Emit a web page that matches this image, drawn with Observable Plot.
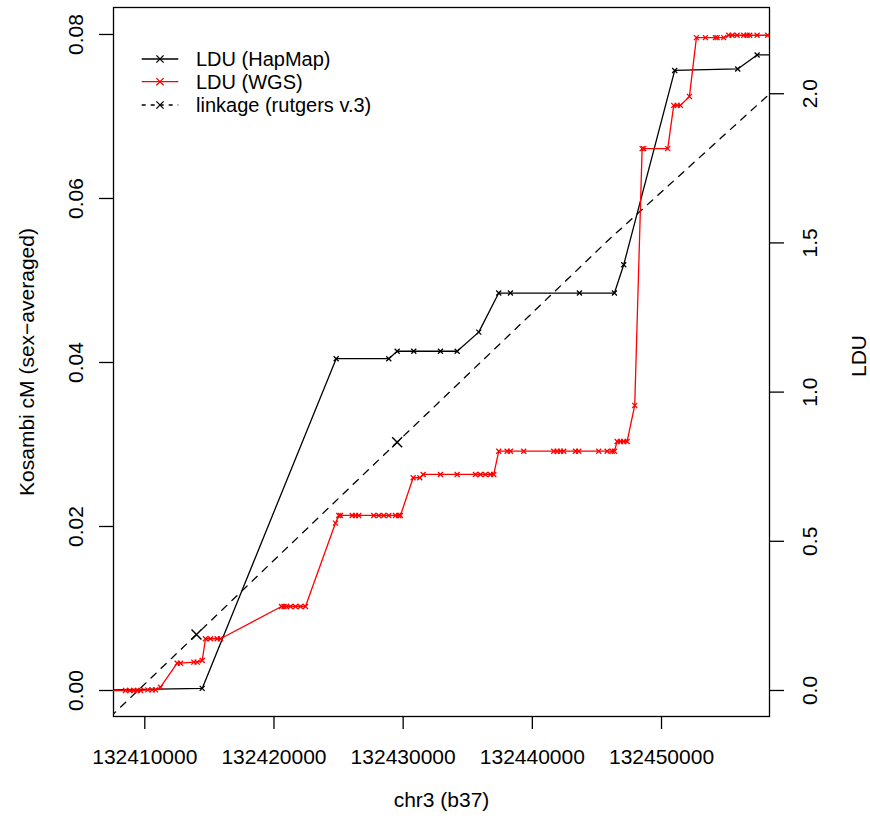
<!DOCTYPE html>
<html><head><meta charset="utf-8">
<script src="https://cdn.jsdelivr.net/npm/d3@7"></script>
<script src="https://cdn.jsdelivr.net/npm/@observablehq/plot@0.6"></script>
<style>
body{margin:0;background:#fff;}
#chart{position:relative;width:870px;height:821px;background:#fff;}
#chart svg{position:absolute;left:0;top:0;}
</style></head><body><div id="chart"></div>
<script>
// ---- data ----
const xTicks = [132410000, 132420000, 132430000, 132440000, 132450000];
const cmTicks = [0, 0.02, 0.04, 0.06, 0.08];
const lduTicks = [0, 0.5, 1.0, 1.5, 2.0];

const hapmapPos = [132405000, 132414443, 132424814, 132428886, 132429536, 132430821, 132432887, 132434180,
  132435852, 132437400, 132438305, 132443646, 132446355, 132447075, 132451022, 132455898, 132457400, 132460000];
const hapmapLDU = [0, 0.007, 1.112, 1.112, 1.137, 1.137, 1.137, 1.137,
  1.201, 1.332, 1.332, 1.332, 1.332, 1.427, 2.078, 2.083, 2.130, 2.130];

const wgsPos = [132405000, 132408506, 132408839, 132409149, 132409412, 132409667, 132410232, 132410573, 132410828,
  132411215, 132412508, 132412763, 132413793, 132414056, 132414443, 132414698, 132415085, 132415604, 132415859,
  132420581, 132420774, 132420968, 132421277, 132421664, 132422051, 132422438,
  132424760, 132425016, 132425147, 132426053, 132426308, 132426564, 132427725, 132428112, 132428499, 132428886,
  132429404, 132429660, 132429791,
  132430774, 132431285, 132431548, 132432887, 132434180, 132435596, 132435983, 132436370, 132436757, 132437013,
  132437400, 132438050, 132438305, 132439335, 132441657, 132441920, 132442175, 132442431, 132443336, 132443592,
  132445140, 132445790, 132446177, 132446355,
  132446564, 132446819, 132447075, 132447338, 132447926,
  132448499, 132448623, 132450480, 132450945, 132451208, 132451463, 132452160,
  132452702, 132453398, 132454172, 132454304, 132454815, 132455202, 132455465, 132455852, 132456363, 132456626,
  132456827, 132457400, 132458220];
const wgsLDU = [0, 0, 0, 0, 0, 0, 0.002, 0.002, 0.002,
  0.011, 0.0915, 0.0915, 0.095, 0.095, 0.1006, 0.1733, 0.1733, 0.1733, 0.1733,
  0.2816, 0.2816, 0.2816, 0.2816, 0.2816, 0.2816, 0.2816,
  0.561, 0.5867, 0.5867, 0.5867, 0.5867, 0.5867, 0.5867, 0.5867, 0.5867, 0.5867,
  0.5867, 0.5867, 0.5867,
  0.713, 0.713, 0.724, 0.724, 0.724, 0.724, 0.724, 0.724, 0.724, 0.724,
  0.802, 0.802, 0.802, 0.802, 0.802, 0.802, 0.802, 0.802, 0.802, 0.802,
  0.802, 0.802, 0.802, 0.802,
  0.8347, 0.8347, 0.8347, 0.8347, 0.9554,
  1.816, 1.816, 1.816, 1.961, 1.961, 1.961, 1.991,
  2.188, 2.188, 2.188, 2.188, 2.188, 2.196, 2.196, 2.196, 2.196, 2.196,
  2.196, 2.196, 2.196];

const linkagePos = [132405000, 132414001, 132429536, 132445875, 132460000];
const linkageCM = [-0.00674, 0.00683, 0.03028, 0.05491, 0.07509];
const linkageMarked = [false, true, true, false, false];

const legendLabels = ["LDU (HapMap)", "LDU (WGS)", "linkage (rutgers v.3)"];
const legendColors = ["black", "red", "black"];
const legendDash = [null, null, "4,5"];

// ---- tables ----
const hapmap = hapmapPos.map((p, i) => ({pos: p, v: hapmapLDU[i]}));
const wgs = wgsPos.map((p, i) => ({pos: p, v: wgsLDU[i]}));
const linkage = linkagePos.map((p, i) => ({pos: p, v: linkageCM[i], m: linkageMarked[i]}));

const W = 870, H = 821, mL = 113, mR = 101, mT = 7, mB = 105;
const xDomain = [132407577, 132458359];
const font = "'Liberation Sans', Arial, Helvetica, sans-serif";
const FS = 21;

const base = {
  width: W, height: H, marginLeft: mL, marginRight: mR, marginTop: mT, marginBottom: mB,
  style: {background: "transparent", fontFamily: font, color: "black", overflow: "visible"}
};

const p1 = Plot.plot({
  ...base,
  x: {domain: xDomain},
  y: {domain: [-0.00317, 0.08329]},
  marks: [
    Plot.line(linkage, {x: "pos", y: "v", stroke: "black", strokeWidth: 1.3, strokeDasharray: "7,7", clip: true}),
    Plot.dot(linkage.filter(d => d.m), {x: "pos", y: "v", symbol: "times", r: 4.6, stroke: "black", strokeWidth: 1.5, clip: true}),
    Plot.axisX({ticks: xTicks, tickFormat: d3.format("d"), tickSize: 13, tickPadding: 28, lineAnchor: "middle",
      fontSize: FS, label: null, strokeWidth: 1.3, strokeOpacity: 1}),
    Plot.axisY({anchor: "left", ticks: cmTicks, tickFormat: d3.format(".2f"), tickRotate: -90, tickSize: 14,
      tickPadding: 23, textAnchor: "middle", lineAnchor: "middle", fontSize: FS, label: null, strokeWidth: 1.3}),
    Plot.frame({stroke: "black", strokeWidth: 1.3}),
    Plot.text(["chr3 (b37)"], {frameAnchor: "bottom", dy: 90, fontSize: FS, fill: "black"}),
    Plot.text(["Kosambi cM (sex\u2212averaged)"], {frameAnchor: "left", textAnchor: "middle", rotate: -90, dx: -86, fontSize: FS, fill: "black"})
  ]
});

const p2 = Plot.plot({
  ...base,
  x: {domain: xDomain, axis: null},
  y: {domain: [-0.0872, 2.289]},
  marks: [
    Plot.line(hapmap, {x: "pos", y: "v", stroke: "black", strokeWidth: 1.3, clip: true}),
    Plot.dot(hapmap, {x: "pos", y: "v", symbol: "times", r: 2.4, stroke: "black", strokeWidth: 1.3, clip: true}),
    Plot.line(wgs, {x: "pos", y: "v", stroke: "#ff0000", strokeWidth: 1.3, clip: true}),
    Plot.dot(wgs, {x: "pos", y: "v", symbol: "times", r: 2.4, stroke: "#ff0000", strokeWidth: 1.3, clip: true}),
    Plot.axisY({anchor: "right", ticks: lduTicks, tickFormat: d3.format(".1f"), tickRotate: -90, tickSize: 14,
      tickPadding: 27, textAnchor: "middle", lineAnchor: "middle", fontSize: FS, label: null, strokeWidth: 1.3}),
    Plot.text(["LDU"], {frameAnchor: "right", textAnchor: "middle", rotate: -90, dx: 90, dy: -6, fontSize: FS, fill: "black"})
  ]
});

const chart = document.getElementById("chart");
chart.appendChild(p1);
chart.appendChild(p2);

// ---- legend ----
const leg = d3.select(chart).append("svg").attr("width", W).attr("height", H)
  .style("position", "absolute").style("left", 0).style("top", 0).style("pointer-events", "none");
const rowY = [59, 81.7, 105];
legendLabels.forEach((lab, i) => {
  const g = leg.append("g");
  g.append("line").attr("x1", 141.7).attr("x2", 178.3).attr("y1", rowY[i]).attr("y2", rowY[i])
    .attr("stroke", legendColors[i]).attr("stroke-width", 1.3)
    .attr("stroke-dasharray", legendDash[i]);
  const r = 3.6;
  g.append("path").attr("d", `M${160 - r},${rowY[i] - r}L${160 + r},${rowY[i] + r}M${160 - r},${rowY[i] + r}L${160 + r},${rowY[i] - r}`)
    .attr("stroke", legendColors[i]).attr("stroke-width", 1.3);
  g.append("text").attr("x", 196).attr("y", rowY[i]).attr("dy", "0.35em")
    .attr("font-family", font).attr("font-size", 20).attr("fill", "black").text(lab);
});
</script></body></html>
